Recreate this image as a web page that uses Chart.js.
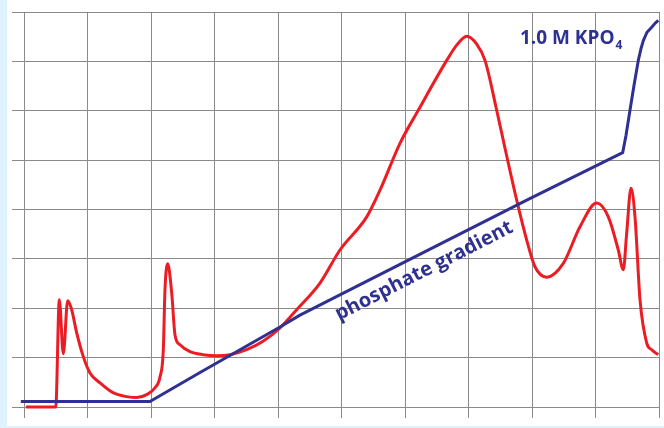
<!DOCTYPE html>
<html>
<head>
<meta charset="utf-8">
<script src="https://cdn.jsdelivr.net/npm/chart.js@4/dist/chart.umd.min.js"></script>
<style>
  html, body { margin: 0; padding: 0; background: #e0f2fb; }
  canvas { display: block; }
</style>
</head>
<body>
<canvas id="chart" width="664" height="428"></canvas>
<script>
// Elution profile (red trace): position along the run vs. signal
const elutionX = [0.03, 0.50, 0.556, 0.619, 0.688, 0.751, 0.830, 0.934, 1.039, 1.197, 1.402, 1.617, 1.775, 1.931,
  2.063, 2.142, 2.194, 2.220, 2.263, 2.326, 2.378, 2.457, 2.614, 2.819, 3.035, 3.244, 3.507, 3.764, 4.031,
  4.294, 4.661, 4.976, 5.397, 5.606, 5.921, 6.209, 6.657, 6.814, 6.972, 7.129, 7.260, 7.444, 7.575, 7.759,
  7.917, 8.047, 8.231, 8.493, 8.756, 9.019, 9.202, 9.359, 9.438, 9.491, 9.559, 9.622, 9.701, 9.806, 9.885, 9.989];
const elutionY = [0, 0, 2.17, 1.08, 2.15, 1.97, 1.50, 1.02, 0.69, 0.49, 0.29, 0.21, 0.19, 0.25,
  0.39, 0.61, 1.16, 2.37, 2.90, 2.31, 1.46, 1.26, 1.12, 1.06, 1.04, 1.06, 1.16, 1.33, 1.60,
  1.97, 2.51, 3.18, 3.85, 4.39, 5.34, 6.01, 7.02, 7.33, 7.51, 7.35, 7.02, 6.01, 5.24, 4.19,
  3.38, 2.84, 2.63, 2.91, 3.65, 4.13, 3.85, 3.18, 2.78, 3.52, 4.43, 3.85, 2.17, 1.30, 1.16, 1.06];

// Phosphate gradient (blue trace): linear ramp, then the 1.0 M KPO4 step
const gradientX = [-0.05, 1.984, 2.772, 4.031, 4.346, 5.921, 7.917, 9.428, 9.480, 9.543, 9.606,
  9.674, 9.717, 9.753, 9.811, 9.885, 9.937, 9.989];
const gradientY = [0.11, 0.11, 0.70, 1.62, 1.86, 2.89, 4.19, 5.15, 5.50, 6.01, 6.51,
  7.02, 7.26, 7.42, 7.59, 7.69, 7.77, 7.83];

// Grid divisions
const xTicks = [0, 1, 2, 3, 4, 5, 6, 7, 8, 9, 10];
const yTicks = [0, 1, 2, 3, 4, 5, 6, 7, 8];

const RED = '#ec1c24';
const NAVY = '#2e3192';
const GRID = '#8a8a8a';

const toPoints = (xs, ys) => xs.map((x, i) => ({ x, y: ys[i] }));

const panelBackground = {
  id: 'panelBackground',
  beforeDraw(chart) {
    const ctx = chart.ctx;
    ctx.save();
    ctx.fillStyle = '#ffffff';
    ctx.fillRect(7, 0, chart.width - 7, chart.height - 2);
    ctx.restore();
  }
};

const annotations = {
  id: 'annotations',
  afterDatasetsDraw(chart) {
    const ctx = chart.ctx;
    const xs = chart.scales.x, ys = chart.scales.y;
    ctx.save();
    ctx.fillStyle = NAVY;

    // Label for the final high-salt step
    ctx.font = 'bold 19px "Open Sans"';
    ctx.textBaseline = 'alphabetic';
    ctx.textAlign = 'left';
    const lx = xs.getPixelForValue(7.81);
    const ly = ys.getPixelForValue(7.35);
    const main = '1.0 M KPO';
    ctx.fillText(main, lx, ly);
    const w = ctx.measureText(main).width;
    ctx.font = 'bold 12px "Open Sans"';
    ctx.fillText('4', lx + w + 1, ly + 5);

    // Label running along the gradient line
    const cx = xs.getPixelForValue(6.30);
    const cy = ys.getPixelForValue(2.756);
    ctx.translate(cx, cy);
    ctx.rotate(-27 * Math.PI / 180);
    ctx.font = 'bold 20px "Open Sans"';
    ctx.textAlign = 'center';
    ctx.textBaseline = 'middle';
    ctx.fillText('phosphate gradient', 0, 0);
    ctx.restore();
  }
};

new Chart(document.getElementById('chart'), {
  type: 'line',
  data: {
    datasets: [
      {
        label: 'phosphate gradient',
        data: toPoints(gradientX, gradientY),
        borderColor: NAVY,
        borderWidth: 3,
        borderJoinStyle: 'round',
        pointRadius: 0,
        tension: 0,
        clip: false,
        order: 0
      },
      {
        label: 'elution',
        data: toPoints(elutionX, elutionY),
        borderColor: RED,
        borderWidth: 3,
        pointRadius: 0,
        cubicInterpolationMode: 'monotone',
        clip: false,
        order: 1
      }
    ]
  },
  options: {
    responsive: false,
    animation: false,
    events: [],
    layout: { padding: { left: 12, top: 12, right: 5, bottom: 10 } },
    plugins: { legend: { display: false }, tooltip: { enabled: false } },
    scales: {
      x: {
        type: 'linear',
        min: 0, max: 10,
        afterBuildTicks: (s) => { s.ticks = xTicks.map(v => ({ value: v })); },
        ticks: { display: false },
        grid: { color: GRID, lineWidth: 1, drawTicks: true, tickLength: 11 },
        border: { color: GRID, width: 1 }
      },
      y: {
        type: 'linear',
        min: 0, max: 8,
        afterBuildTicks: (s) => { s.ticks = yTicks.map(v => ({ value: v })); },
        ticks: { display: false },
        grid: { color: GRID, lineWidth: 1, drawTicks: true, tickLength: 12 },
        border: { color: GRID, width: 1 }
      }
    }
  },
  plugins: [panelBackground, annotations]
});
</script>
</body>
</html>
